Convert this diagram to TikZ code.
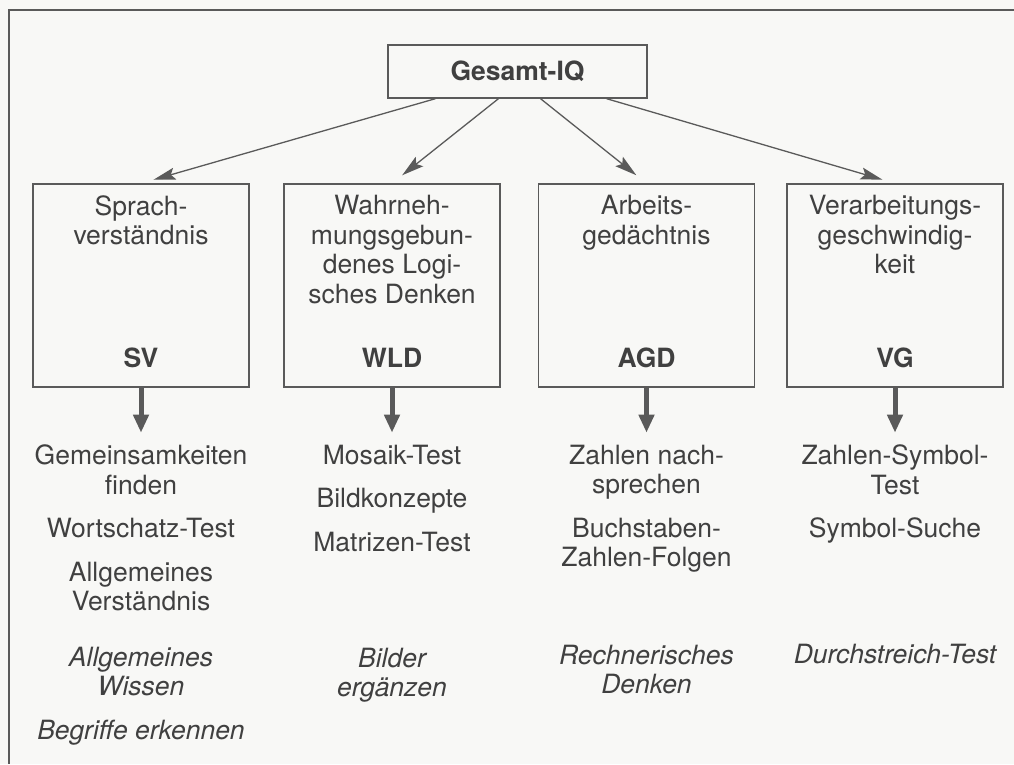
\documentclass[tikz,border=0pt]{standalone}
\usepackage{fontspec}
\setmainfont{TeX Gyre Heros}
\usepackage{xcolor}
\usepackage{tikz}
\usetikzlibrary{arrows.meta,positioning,calc}
\definecolor{cLine}{HTML}{5A5A5A}
\definecolor{cText}{HTML}{404040}
\definecolor{cPaper}{HTML}{F8F8F6}
\newcommand{\fsz}{\fontsize{26.5}{29.5}\selectfont}

\begin{document}
\begin{tikzpicture}[x=1pt,y=-1pt,
  every node/.style={text=cText,font=\fsz},
  topbox/.style={draw=cLine,line width=1.3pt,minimum width=259pt,minimum height=53pt,
    inner sep=0pt,font=\fsz\bfseries},
  catbox/.style={draw=cLine,line width=1.3pt,minimum width=216pt,minimum height=203pt,inner sep=0pt},
  ttl/.style={anchor=north,align=center,inner sep=0pt},
  abbr/.style={anchor=base,inner sep=0pt,font=\fsz\bfseries},
  tst/.style={anchor=north,align=center,inner sep=0pt},
  opt/.style={anchor=north,align=center,inner sep=0pt,font=\fsz\itshape},
  fac/.style={-{Stealth[length=22pt,width=12pt,inset=4pt]},line width=1.3pt,draw=cLine,shorten >=13pt},
  sub/.style={-{Triangle[length=18pt,width=15pt]},line width=5pt,draw=cLine,shorten >=12pt}]

  \fill[cPaper] (0,0) rectangle (1014,764);
  \useasboundingbox (0,0) rectangle (1014,764);
  \draw[cLine,line width=1.3pt] (1014,10) -- (9,10) -- (9,764);

  \node[topbox] (iq) at (517.5,71.5) {Gesamt-IQ};

  % index boxes
  \node[catbox] (sv) at (141,285.5) {};
  \node[catbox] (wld) at (392,285.5) {};
  \node[catbox] (agd) at (646.5,285.5) {};
  \node[catbox] (vg) at (895,285.5) {};

  \node[ttl] (svt) at ([yshift=-12pt]sv.north) {Sprach-\\verständnis};
  \node[ttl] (wldt) at ([yshift=-12pt]wld.north) {Wahrneh-\\mungsgebun-\\denes Logi-\\sches Denken};
  \node[ttl] (agdt) at ([yshift=-12pt]agd.north) {Arbeits-\\gedächtnis};
  \node[ttl] (vgt) at ([yshift=-12pt]vg.north) {Verarbeitungs-\\geschwindig-\\keit};

  \node[abbr] (svk) at ([yshift=20pt]sv.south) {SV};
  \node[abbr] (wldk) at ([yshift=20pt]wld.south) {WLD};
  \node[abbr] (agdk) at ([yshift=20pt]agd.south) {AGD};
  \node[abbr] (vgk) at ([yshift=20pt]vg.south) {VG};

  \draw[fac] ([xshift=-82pt]iq.south) -- (sv.north);
  \draw[fac] ([xshift=-19pt]iq.south) -- (wld.north);
  \draw[fac] ([xshift=23pt]iq.south) -- (agd.north);
  \draw[fac] ([xshift=89pt]iq.south) -- (vg.north);

  % subtests
  \node[tst] (svl) at ([yshift=-57pt]sv.south)
    {Gemeinsamkeiten\\finden\\[14pt]Wortschatz-Test\\[14pt]Allgemeines\\Verständnis};
  \node[tst] (wldl) at ([yshift=-57pt]wld.south)
    {Mosaik-Test\\[14pt]Bildkonzepte\\[14pt]Matrizen-Test};
  \node[tst] (agdl) at ([yshift=-57pt]agd.south)
    {Zahlen nach-\\sprechen\\[14pt]Buchstaben-\\Zahlen-Folgen};
  \node[tst] (vgl) at ([yshift=-57pt]vg.south)
    {Zahlen-Symbol-\\Test\\[14pt]Symbol-Suche};

  \draw[sub] (sv.south) -- (svl.north);
  \draw[sub] (wld.south) -- (wldl.north);
  \draw[sub] (agd.south) -- (agdl.north);
  \draw[sub] (vg.south) -- (vgl.north);

  \node[opt] (svo) at ([yshift=-259pt]sv.south) {Allgemeines\\Wissen\\[14pt]Begriffe erkennen};
  \node[opt] (wldo) at ([yshift=-260pt]wld.south) {Bilder\\ergänzen};
  \node[opt] (agdo) at ([yshift=-257pt]agd.south) {Rechnerisches\\Denken};
  \node[opt] (vgo) at ([yshift=-256pt]vg.south) {Durchstreich-Test};
\end{tikzpicture}
\end{document}
